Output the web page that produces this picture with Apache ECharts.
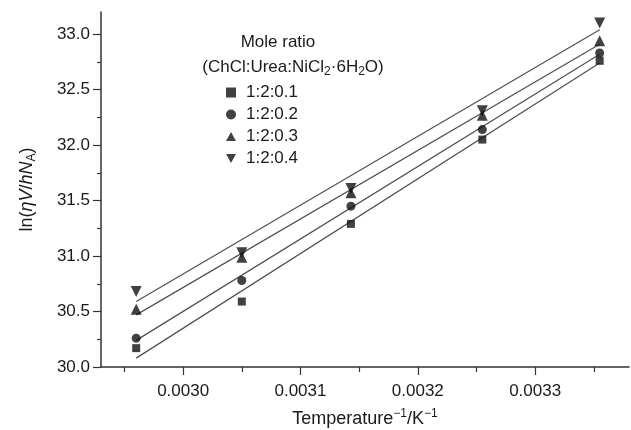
<!DOCTYPE html>
<html>
<head>
<meta charset="utf-8">
<script src="https://cdn.jsdelivr.net/npm/echarts@6/dist/echarts.min.js"></script>
<style>html,body{margin:0;padding:0;background:#fff}#c{width:631px;height:430px}</style>
</head>
<body>
<div id="c"></div>
<script>
// Data
const xValues = [0.00296, 0.00305, 0.003143, 0.003255, 0.003355];
const seriesNames = ['1:2:0.1', '1:2:0.2', '1:2:0.3', '1:2:0.4'];
const s1 = [30.17, 30.59, 31.29, 32.05, 32.76];
const s2 = [30.26, 30.78, 31.45, 32.14, 32.83];
const s3 = [30.52, 30.99, 31.57, 32.27, 32.94];
const s4 = [30.68, 31.03, 31.61, 32.31, 33.10];
// fitted lines (end points)
const fitX = [0.00296, 0.003355];
const fit1 = [30.08, 32.74];
const fit2 = [30.24, 32.82];
const fit3 = [30.47, 32.91];
const fit4 = [30.59, 33.04];
// tick labels
const xTickLabels = [0.0030, 0.0031, 0.0032, 0.0033];
const xMinorTicks = [0.00295, 0.00305, 0.00315, 0.00325, 0.00335];
const yTickLabels = [30.0, 30.5, 31.0, 31.5, 32.0, 32.5, 33.0];
const yMinorTicks = [30.25, 30.75, 31.25, 31.75, 32.25, 32.75];

const FONT = "'Liberation Sans', Arial, sans-serif";
const TXT = '#1a1a1a';
const AX = '#333';

const pts = arr => xValues.map((x, i) => [x, arr[i]]);
const fit = arr => fitX.map((x, i) => [x, arr[i]]);

const symbols = [
  {symbol: 'rect', size: 8, rotate: 0},
  {symbol: 'circle', size: 9, rotate: 0},
  {symbol: 'triangle', size: 11, rotate: 0},
  {symbol: 'triangle', size: 11, rotate: 180}
];
const legendIcons = ['rect', 'circle', 'path://M5,0L10,9L0,9Z', 'path://M0,0L10,0L5,9Z'];
const scatterData = [s1, s2, s3, s4];
const fitData = [fit1, fit2, fit3, fit4];

const series = [];
fitData.forEach((f, i) => {
  series.push({
    name: 'fit' + (i + 1), type: 'line', data: fit(f), symbol: 'none',
    lineStyle: {color: '#505050', width: 1.2}, silent: true, z: 2,
    xAxisIndex: 0, yAxisIndex: 0
  });
});
scatterData.forEach((d, i) => {
  series.push({
    name: seriesNames[i], type: 'scatter', data: pts(d),
    symbol: symbols[i].symbol, symbolSize: symbols[i].size, symbolRotate: symbols[i].rotate,
    itemStyle: {color: '#111'}, z: 3,
    xAxisIndex: 0, yAxisIndex: 0
  });
});

const xMin = 0.00293, xMax = 0.00338, yMin = 30, yMax = 33.2;

const chart = echarts.init(document.getElementById('c'), null, {renderer: 'canvas'});
chart.setOption({
  animation: false,
  backgroundColor: '#fff',
  grid: {left: 101, right: 2, top: 12, bottom: 63, containLabel: false, outerBoundsMode: 'none'},
  legend: {
    data: seriesNames.map((n, i) => ({name: n, icon: legendIcons[i], itemStyle: {color: '#111'}})),
    orient: 'vertical', left: 221, top: 79,
    itemWidth: 10, itemHeight: 10, itemGap: 5,
    textStyle: {fontFamily: FONT, fontSize: 17, color: TXT, padding: [0, 0, 0, 5]},
    selectedMode: false
  },
  graphic: [
    {type: 'text', x: 278, y: 42, style: {text: 'Mole ratio', fontFamily: FONT, fontSize: 17, fill: TXT, align: 'center', verticalAlign: 'middle', textAlign: 'center', textVerticalAlign: 'middle'}},
    {type: 'text', x: 293, y: 67, style: {
      text: '(ChCl:Urea:NiCl{sub|2}·6H{sub|2}O)', fontFamily: FONT, fontSize: 17, fill: TXT,
      lineHeight: 22, align: 'center', verticalAlign: 'middle', textAlign: 'center', textVerticalAlign: 'middle',
      rich: {sub: {fontFamily: FONT, fontSize: 12, lineHeight: 12, verticalAlign: 'bottom', fill: TXT}}
    }}
  ],
  xAxis: [
    {
      type: 'value', min: xMin, max: xMax, position: 'bottom',
      name: 'Temperature{sup|−1}/K{sup|−1}', nameLocation: 'middle', nameGap: 41,
      nameTextStyle: {fontFamily: FONT, fontSize: 18, color: TXT, lineHeight: 22,
        rich: {sup: {fontFamily: FONT, fontSize: 12, lineHeight: 12, verticalAlign: 'top', color: TXT}}},
      axisLine: {show: true, lineStyle: {color: AX, width: 1.5}},
      axisTick: {show: true, length: 8, inside: false, customValues: xTickLabels, lineStyle: {color: AX, width: 1.2}},
      axisLabel: {customValues: xTickLabels, margin: 16, fontFamily: FONT, fontSize: 17, color: TXT,
        formatter: v => v.toFixed(4)},
      splitLine: {show: false}
    },
    {
      type: 'value', min: xMin, max: xMax, position: 'bottom', gridIndex: 0,
      axisLine: {show: false},
      axisTick: {show: true, length: 5, customValues: xMinorTicks, lineStyle: {color: AX, width: 1.2}},
      axisLabel: {show: false}, splitLine: {show: false}
    }
  ],
  yAxis: [
    {
      type: 'value', min: yMin, max: yMax, position: 'left',
      name: 'ln({i|ηV}/{i|hN}{sub|A})', nameLocation: 'middle', nameGap: 63,
      nameTextStyle: {fontFamily: FONT, fontSize: 18, color: TXT, lineHeight: 22,
        rich: {
          i: {fontFamily: FONT, fontSize: 18, fontStyle: 'italic', color: TXT, lineHeight: 22},
          sub: {fontFamily: FONT, fontSize: 12, lineHeight: 12, verticalAlign: 'bottom', color: TXT}
        }},
      axisLine: {show: true, lineStyle: {color: AX, width: 1.5}},
      axisTick: {show: true, length: 8, customValues: yTickLabels, lineStyle: {color: AX, width: 1.2}},
      axisLabel: {customValues: yTickLabels, margin: 11, fontFamily: FONT, fontSize: 17, color: TXT,
        formatter: v => v.toFixed(1)},
      splitLine: {show: false}
    },
    {
      type: 'value', min: yMin, max: yMax, position: 'left', gridIndex: 0,
      axisLine: {show: false},
      axisTick: {show: true, length: 4, customValues: yMinorTicks, lineStyle: {color: AX, width: 1.2}},
      axisLabel: {show: false}, splitLine: {show: false}
    }
  ],
  series: series
});
</script>
</body>
</html>
